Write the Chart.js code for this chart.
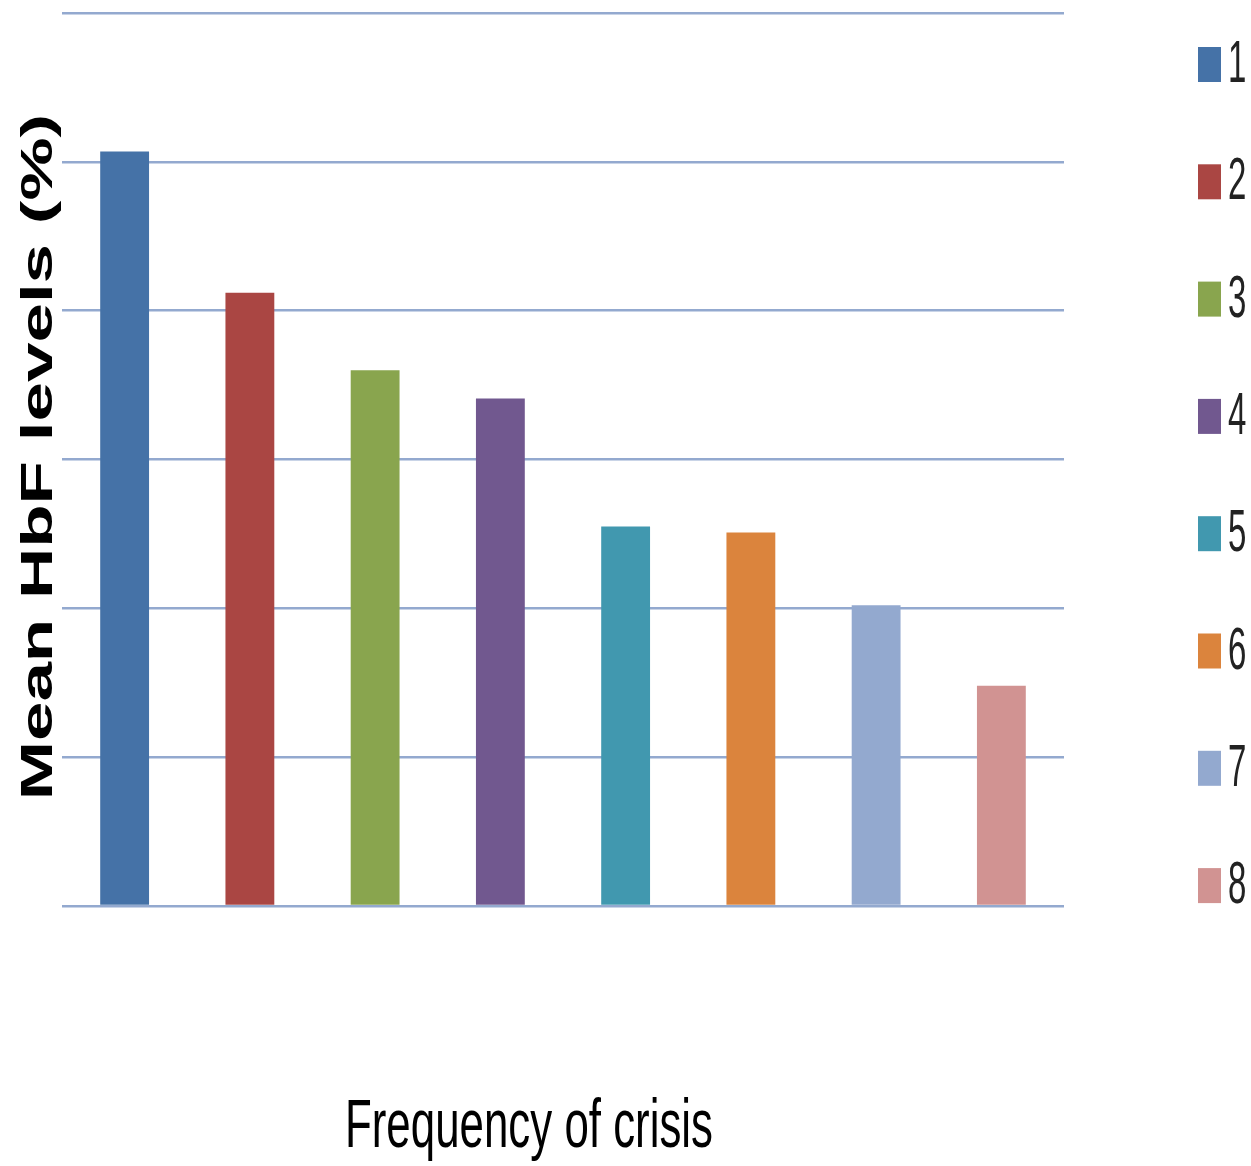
<!DOCTYPE html>
<html>
<head>
<meta charset="utf-8">
<title>Mean HbF levels by frequency of crisis</title>
<script src="https://cdn.jsdelivr.net/npm/chart.js@4/dist/chart.umd.min.js"></script>
<style>
    html, body { margin: 0; padding: 0; background: #fff; }
    #wrap { position: relative; width: 1251px; height: 1166px; }
</style>
</head>
<body>
<div id="wrap">
    <canvas id="hbfChart" width="1251" height="1166"></canvas>
</div>
<script>
// Dados do gráfico
const categories = ['1', '2', '3', '4', '5', '6', '7', '8'];
const meanHbf = [5.07, 4.12, 3.60, 3.41, 2.55, 2.51, 2.02, 1.48];
const yTicks = [0, 1, 2, 3, 4, 5, 6];
const barColors = ['#4572A7', '#AA4643', '#89A54E', '#71588F', '#4198AF', '#DB843D', '#93A9CF', '#D19392'];
const yTitle = 'Mean HbF levels (%)';
const xTitle = 'Frequency of crisis';

// Texto estreito (a figura original tem as letras comprimidas na horizontal)
const SQUEEZE = 0.63;
const FONT = '"Liberation Sans", Arial, sans-serif';

const squeezedTextPlugin = {
    id: 'squeezedText',
    afterDraw(chart) {
        const { ctx, chartArea } = chart;

        // título do eixo Y
        ctx.save();
        ctx.translate(52, 457);
        ctx.rotate(-Math.PI / 2);
        ctx.scale(1, SQUEEZE);
        ctx.font = 'bold 71px ' + FONT;
        ctx.textAlign = 'center';
        ctx.textBaseline = 'alphabetic';
        ctx.fillStyle = '#000';
        ctx.fillText(yTitle, 0, 0);
        ctx.restore();

        // título do eixo X
        ctx.save();
        ctx.translate(529, 1147);
        ctx.scale(0.645, 1);
        ctx.font = '68px ' + FONT;
        ctx.textAlign = 'center';
        ctx.textBaseline = 'alphabetic';
        ctx.fillStyle = '#000';
        ctx.fillText(xTitle, 0, 0);
        ctx.restore();

        // legenda à direita
        const step = 117.3;
        categories.forEach((label, i) => {
            const top = 47 + i * step;
            ctx.fillStyle = barColors[i];
            ctx.fillRect(1198, top, 23, 35);

            ctx.save();
            ctx.translate(1228, top + 35);
            ctx.scale(0.55, 1);
            ctx.font = '60px ' + FONT;
            ctx.textAlign = 'left';
            ctx.textBaseline = 'alphabetic';
            ctx.fillStyle = '#222';
            ctx.fillText(label, 0, 0);
            ctx.restore();
        });
    }
};

const ctx = document.getElementById('hbfChart').getContext('2d');
const hbfChart = new Chart(ctx, {
    type: 'bar',
    data: {
        labels: categories,
        datasets: [{
            label: yTitle,
            data: meanHbf,
            backgroundColor: barColors,
            borderWidth: 0,
            categoryPercentage: 1,
            barPercentage: 0.39
        }]
    },
    options: {
        responsive: false,
        animation: false,
        layout: {
            padding: { left: 62, right: 187, top: 13, bottom: 260 }
        },
        plugins: {
            legend: { display: false },
            tooltip: { enabled: false }
        },
        scales: {
            x: {
                display: false
            },
            y: {
                min: yTicks[0],
                max: yTicks[yTicks.length - 1],
                afterBuildTicks: (scale) => {
                    scale.ticks = yTicks.map(v => ({ value: v }));
                },
                ticks: { display: false },
                border: { display: false },
                grid: {
                    color: '#93a9cf',
                    lineWidth: 2.5,
                    drawTicks: false
                }
            }
        }
    },
    plugins: [squeezedTextPlugin]
});
</script>
</body>
</html>
